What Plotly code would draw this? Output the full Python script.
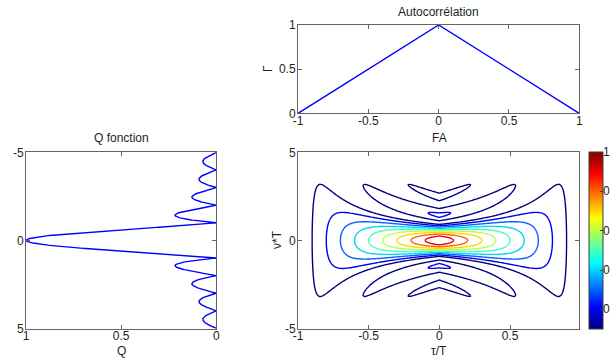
import numpy as np
import plotly.graph_objects as go

W, H = 612, 358

# ---------------- data ----------------
# Rectangular pulse of duration T (normalised): delay tau/T and Doppler nu*T grids
tau_norm = np.arange(-1.0, 1.0, 0.01)          # tau / T  (axis stops just short of 1)
nu_norm = np.arange(-5.0, 5.0001, 0.04)        # nu * T
q_nu = np.arange(-5.0, 5.0001, 0.01)           # nu * T for the Q-function cut

# autocorrelation (triangle)
acf_lag = [-1.0, 0.0, 1.0]
acf_val = [0.0, 1.0, 0.0]

contour_levels = [0.1, 0.2, 0.3, 0.4, 0.5, 0.6, 0.7, 0.8, 0.9]
cbar_min, cbar_max = 0.1, 1.0
cbar_tickvals = [0.2, 0.4, 0.6, 0.8, 1.0]
cbar_ticktext = ["0", "0", "0", "0", "1"]

acf_xticks = [-1, -0.5, 0, 0.5, 1]
acf_xtext = ["-1", "-0.5", "0", "0.5", "1"]
acf_yticks = [0, 0.5, 1]
acf_ytext = ["0", "0.5", "1"]
q_xticks = [1, 0.5, 0]
q_xtext = ["1", "0.5", "0"]
nu_ticks = [-5, 0, 5]
nu_text = ["-5", "0", "5"]
tau_ticks = [-1, -0.5, 0, 0.5]
tau_text = ["-1", "-0.5", "0", "0.5"]

# ambiguity function magnitude of the rectangular pulse
TT, NN = np.meshgrid(tau_norm, nu_norm)
a = 1.0 - np.abs(TT)
amb = np.abs(a * np.sinc(NN * a))
q_val = np.abs(np.sinc(q_nu))


# ---------------- colours ----------------
def jet(p):
    p = min(max(p, 0.0), 1.0)
    def ch(x):
        return min(max(1.5 - abs(4 * p - x), 0.0), 1.0)
    r, g, b = ch(3), ch(2), ch(1)
    return "rgb(%d,%d,%d)" % (round(255 * r), round(255 * g), round(255 * b))

jet_full = [[i / 64, jet(i / 64)] for i in range(65)]
n = len(contour_levels)
line_cs = [[i / (n - 1), jet((lv - cbar_min) / (cbar_max - cbar_min))]
           for i, lv in enumerate(contour_levels)]

AX = "rgb(100,100,100)"
TXT = "rgb(30,30,30)"
FONT = "Liberation Sans, Arial, sans-serif"
FS = 12

def px(x):
    return x / W

def py(y):
    return 1 - y / H

fig = go.Figure()

# Q function
fig.add_trace(go.Scatter(x=q_val, y=q_nu, mode="lines",
                         line=dict(color="rgb(0,0,255)", width=1.4),
                         xaxis="x", yaxis="y", showlegend=False, hoverinfo="skip"))
# autocorrelation
fig.add_trace(go.Scatter(x=acf_lag, y=acf_val, mode="lines",
                         line=dict(color="rgb(0,0,255)", width=1.4),
                         xaxis="x2", yaxis="y2", showlegend=False, hoverinfo="skip"))
# ambiguity contour
fig.add_trace(go.Contour(x=tau_norm, y=nu_norm, z=amb, autocontour=False,
                         contours=dict(start=contour_levels[0], end=contour_levels[-1],
                                       size=0.1, coloring="lines"),
                         line=dict(width=1.4, smoothing=1),
                         colorscale=line_cs, showscale=False,
                         xaxis="x3", yaxis="y3", hoverinfo="skip"))
# colorbar carrier
fig.add_trace(go.Scatter(x=[0], y=[0], mode="markers",
                         marker=dict(size=1, opacity=0, color=[cbar_min],
                                     cmin=cbar_min, cmax=cbar_max, colorscale=jet_full,
                                     showscale=True,
                                     colorbar=dict(x=px(589), xanchor="left", xpad=0,
                                                   y=py(240.5), yanchor="middle", ypad=0,
                                                   len=(329 - 152) / H, lenmode="fraction",
                                                   thickness=14, thicknessmode="pixels",
                                                   outlinewidth=1, outlinecolor="rgb(60,60,60)",
                                                   tickvals=cbar_tickvals,
                                                   ticks="inside", ticklen=3, tickcolor="rgb(60,60,60)",
                                                   showticklabels=False)),
                         xaxis="x3", yaxis="y3", showlegend=False, hoverinfo="skip"))

common = dict(showgrid=False, zeroline=False, showline=True, linecolor=AX, linewidth=1,
              mirror="ticks", ticks="inside", ticklen=4, tickcolor=AX, automargin=False,
              tickfont=dict(size=FS, color=TXT, family=FONT))
xcommon = dict(ticklabelstandoff=-4, **common)
ycommon = dict(ticklabelstandoff=-1, **common)

x_q = [px(26), px(216.3)]
x_r = [px(298), px(579.3)]
y_low = [py(328.5), py(152.3)]
y_top = [py(113.3), py(25)]

fig.update_layout(
    width=W, height=H, autosize=False,
    margin=dict(l=0, r=0, t=0, b=0, pad=0, autoexpand=False),
    paper_bgcolor="white", plot_bgcolor="white",
    font=dict(family=FONT, size=FS, color=TXT),
    xaxis=dict(domain=x_q, anchor="y", range=[1, 0], tickvals=q_xticks, ticktext=q_xtext, **xcommon),
    yaxis=dict(domain=y_low, anchor="x", range=[5, -5], tickvals=nu_ticks, ticktext=nu_text, **ycommon),
    xaxis2=dict(domain=x_r, anchor="y2", range=[-1, 1], tickvals=acf_xticks, ticktext=acf_xtext, **xcommon),
    yaxis2=dict(domain=y_top, anchor="x2", range=[0, 1], tickvals=acf_yticks, ticktext=acf_ytext, **ycommon),
    xaxis3=dict(domain=x_r, anchor="y3", range=[-1, 0.99], tickvals=tau_ticks, ticktext=tau_text, **xcommon),
    yaxis3=dict(domain=y_low, anchor="x3", range=[-5, 5], tickvals=nu_ticks, ticktext=nu_text, **ycommon),
)

def label(text, x, y, angle=0, size=FS, xanchor="center"):
    fig.add_annotation(text=text, x=px(x), y=py(y), xref="paper", yref="paper",
                       xanchor=xanchor, yanchor="middle", showarrow=False, textangle=angle,
                       font=dict(size=size, color=TXT, family=FONT))

label("Autocorrélation", 438.5, 12)
label("FA", 439, 138)
label("Γ", 268, 69, angle=-90)
label("Q fonction", 121, 138)
label("Q", 121, 351)
label("τ/T", 439, 351)
label("ν*T", 277, 240, angle=-90)

# colorbar tick labels (value -> pixel inside the bar span 152..329)
for v, t in zip(cbar_tickvals, cbar_ticktext):
    ypix = 329 - (v - cbar_min) / (cbar_max - cbar_min) * (329 - 152)
    label(t, 612, ypix, xanchor="right")

fig.write_html("out.html", config={"displayModeBar": False},
               post_script="document.body.style.margin='0';document.body.style.overflow='hidden';")
